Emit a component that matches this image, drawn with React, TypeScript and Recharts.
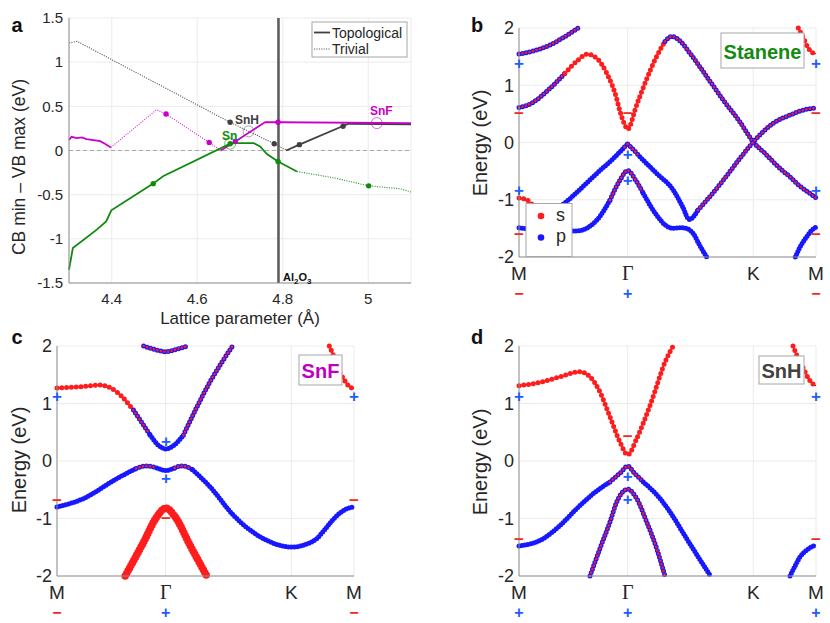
import React from 'react';
import { ComposedChart, Line, Scatter, XAxis, YAxis, CartesianGrid, ReferenceLine } from 'recharts';

const FONT = '"Liberation Sans", Arial, Helvetica, sans-serif';
const SERIF = '"Liberation Serif", "Times New Roman", serif';
const INK = '#262626';
const RED = '#ff1c1c';
const BLUE = '#1818ff';
const PAR_RED = '#ee2a1e';
const PAR_BLUE = '#1f5cff';
const MAG = '#c800c8';
const GREEN = '#0f8a0f';
const DARK = '#404040';

// ---------- panel a : gap vs lattice parameter ----------
const latTicks = [4.4, 4.6, 4.8, 5];
const gapTicks = [-1.5, -1, -0.5, 0, 0.5, 1, 1.5];
const AL2O3 = 4.79;

const snhTrivial = [[4.3, 1.217], [4.319, 1.236], [4.677, 0.319], [4.78, 0.077], [4.808, 0.005]];
const snhTopo = [[4.808, 0.0], [4.839, 0.066], [4.941, 0.277], [4.954, 0.303], [5.1, 0.295]];
const snfTopoA = [[4.3, 0.12], [4.306, 0.155], [4.318, 0.141], [4.33, 0.148], [4.341, 0.13], [4.373, 0.105], [4.384, 0.076], [4.398, 0.035]];
const snfTrivial = [[4.398, 0.035], [4.505, 0.462], [4.527, 0.413], [4.628, 0.09], [4.655, 0.0]];
const snfTopoB = [[4.655, 0.0], [4.689, 0.103], [4.759, 0.322], [4.789, 0.32], [5.1, 0.31]];
const snTopo = [[4.3, -1.35], [4.309, -1.104], [4.365, -0.896], [4.387, -0.802], [4.399, -0.677], [4.497, -0.375], [4.52, -0.292], [4.677, 0.077], [4.69, 0.084], [4.732, 0.084], [4.747, 0.046], [4.763, -0.04], [4.789, -0.124], [4.833, -0.237]];
const snTrivial = [[4.833, -0.237], [4.92, -0.31], [5.001, -0.4], [5.075, -0.433], [5.1, -0.47]];

const snhMarks = [[4.677, 0.319], [4.78, 0.077], [4.839, 0.066], [4.941, 0.274]];
const snfMarks = [[4.527, 0.413], [4.628, 0.09], [4.689, 0.103], [4.789, 0.32]];
const snMarks = [[4.497, -0.375], [4.677, 0.077], [4.789, -0.124], [5.001, -0.4]];
const snhOpen = [[4.72, 0.216]];
const snOpen = [[4.677, 0.077]];
const snfOpen = [[5.02, 0.31]];

// ---------- band structures (k path M-Γ-K-M) ----------
const kTicks = [0, 0.577, 1.244, 1.577];
const kLabels = ['M', 'Γ', 'K', 'M'];
const eTicks = [-2, -1, 0, 1, 2];

type Pt = [number, number, string]; // k, energy, orbital character (s, p, m = mixed)

const stanene: Pt[][] = [
  [[0, 1.544, 'm'], [0.067, 1.59, 'm'], [0.156, 1.69, 'm'], [0.244, 1.85, 'm'], [0.315, 2.0, 'm']],
  [[0, 0.61, 'm'], [0.067, 0.686, 'm'], [0.156, 0.92, 'm'], [0.244, 1.21, 's'], [0.315, 1.445, 's'], [0.359, 1.544, 's'], [0.412, 1.474, 's'], [0.466, 1.21, 's'], [0.51, 0.86, 's'], [0.545, 0.45, 's'], [0.566, 0.28, 's'], [0.577, 0.23, 's'], [0.588, 0.28, 's'], [0.616, 0.57, 's'], [0.669, 1.036, 's'], [0.722, 1.445, 's'], [0.775, 1.766, 'm'], [0.811, 1.854, 'm'], [0.846, 1.8, 'm'], [0.908, 1.56, 'm'], [0.997, 1.15, 'm'], [1.085, 0.74, 'm'], [1.173, 0.36, 'm'], [1.244, 0.01, 'm'], [1.306, -0.19, 'm'], [1.395, -0.48, 'm'], [1.439, -0.6, 'm'], [1.483, -0.74, 'm'], [1.536, -0.87, 'm'], [1.577, -0.967, 'm']],
  [[0, -0.97, 's'], [0.04, -1.0, 's'], [0.085, -1.12, 's'], [0.15, -1.2, 'p'], [0.2, -1.16, 'p'], [0.244, -1.054, 'p'], [0.33, -0.8, 'p'], [0.413, -0.54, 'p'], [0.51, -0.25, 'p'], [0.56, -0.08, 'm'], [0.577, -0.026, 'm']],
  [[0.577, -0.026, 'm'], [0.6, -0.1, 'm'], [0.642, -0.25, 'p'], [0.731, -0.54, 'p'], [0.819, -0.83, 'p'], [0.87, -1.13, 'p'], [0.904, -1.345, 'p'], [0.95, -1.18, 'm'], [0.997, -1.007, 'm'], [1.085, -0.657, 'm'], [1.173, -0.277, 'm'], [1.244, 0.01, 'm'], [1.35, 0.336, 'm'], [1.439, 0.48, 'm'], [1.527, 0.58, 'm'], [1.577, 0.6, 'm']],
  [[0, -1.49, 'p'], [0.08, -1.52, 'p'], [0.18, -1.54, 'p'], [0.306, -1.545, 'p'], [0.413, -1.357, 'p'], [0.483, -1.007, 'm'], [0.536, -0.657, 'm'], [0.577, -0.49, 'm'], [0.62, -0.66, 'm'], [0.66, -0.89, 'p'], [0.731, -1.27, 'p'], [0.78, -1.45, 'p'], [0.819, -1.5, 'p'], [0.86, -1.49, 'p'], [0.89, -1.5, 'p'], [0.925, -1.59, 'p'], [0.96, -1.8, 'p'], [0.997, -2.0, 'p']],
  [[1.467, -2.0, 'p'], [1.49, -1.84, 'p'], [1.527, -1.65, 'p'], [1.555, -1.53, 'p'], [1.577, -1.48, 'p']],
  [[1.483, 2.0, 's'], [1.51, 1.825, 's'], [1.536, 1.65, 's'], [1.563, 1.56, 's'], [1.577, 1.55, 's']],
];

const snf: Pt[][] = [
  [[0.46, 2.0, 'm'], [0.52, 1.94, 'm'], [0.578, 1.9, 'm'], [0.64, 1.95, 'm'], [0.693, 2.0, 'm']],
  [[0, 1.27, 's'], [0.12, 1.29, 's'], [0.23, 1.32, 's'], [0.318, 1.2, 's'], [0.406, 0.885, 'm'], [0.495, 0.45, 'p'], [0.54, 0.27, 'p'], [0.578, 0.21, 'p'], [0.62, 0.27, 'p'], [0.671, 0.45, 'm'], [0.813, 1.38, 'm'], [0.932, 2.0, 'm']],
  [[0, -0.8, 'p'], [0.141, -0.653, 'p'], [0.318, -0.305, 'p'], [0.42, -0.13, 'm'], [0.477, -0.085, 'm'], [0.53, -0.12, 'p'], [0.578, -0.165, 'p'], [0.625, -0.12, 'm'], [0.663, -0.085, 'm'], [0.72, -0.15, 'p'], [0.813, -0.45, 'p'], [0.937, -0.944, 'p'], [1.114, -1.38, 'p'], [1.246, -1.497, 'p'], [1.33, -1.44, 'p'], [1.379, -1.35, 'p'], [1.42, -1.2, 'p'], [1.46, -1.04, 'p'], [1.5, -0.91, 'p'], [1.54, -0.83, 'p'], [1.577, -0.8, 'p']],
  [[0.362, -2.0, 's'], [0.46, -1.41, 's'], [0.53, -0.97, 's'], [0.578, -0.82, 's'], [0.627, -0.97, 's'], [0.707, -1.47, 's'], [0.795, -2.0, 's']],
  [[1.446, 2.0, 's'], [1.467, 1.84, 's'], [1.5, 1.55, 's'], [1.52, 1.44, 's'], [1.55, 1.3, 's'], [1.577, 1.26, 's']],
];

const snh: Pt[][] = [
  [[0, 1.31, 's'], [0.129, 1.38, 's'], [0.218, 1.465, 's'], [0.324, 1.552, 's'], [0.377, 1.465, 's'], [0.43, 1.2, 's'], [0.483, 0.77, 's'], [0.536, 0.33, 's'], [0.577, 0.11, 's'], [0.625, 0.39, 's'], [0.696, 0.97, 's'], [0.784, 1.786, 's'], [0.819, 2.0, 's']],
  [[0, -1.48, 'p'], [0.129, -1.35, 'p'], [0.218, -1.12, 'p'], [0.306, -0.83, 'p'], [0.395, -0.566, 'p'], [0.483, -0.364, 'm'], [0.54, -0.2, 'm'], [0.577, -0.09, 'm'], [0.615, -0.22, 'm'], [0.66, -0.364, 'p'], [0.749, -0.653, 'p'], [0.802, -0.887, 'p'], [0.89, -1.35, 'p'], [1.017, -2.0, 'p']],
  [[0.377, -2.0, 'm'], [0.43, -1.52, 'm'], [0.483, -1.06, 'm'], [0.519, -0.71, 'm'], [0.577, -0.49, 'm'], [0.625, -0.653, 'm'], [0.678, -1.06, 'm'], [0.731, -1.52, 'm'], [0.775, -2.0, 'm']],
  [[1.439, -2.0, 'p'], [1.47, -1.8, 'p'], [1.492, -1.67, 'p'], [1.536, -1.53, 'p'], [1.577, -1.46, 'p']],
  [[1.455, 2.0, 's'], [1.48, 1.8, 's'], [1.51, 1.61, 's'], [1.536, 1.44, 's'], [1.56, 1.34, 's'], [1.577, 1.31, 's']],
];

// parity eigenvalues at the TRIM points
const parStanene: Pt[] = [[0, 1.387, '+'], [0, 0.5, '-'], [0, -0.83, '+'], [0, -1.6, '-'], [0.577, 0.5, '-'], [0.577, -0.207, '+'], [0.577, -0.669, '+'], [1.577, 1.387, '+'], [1.577, 0.5, '-'], [1.577, -0.83, '+'], [1.577, -1.6, '-']];
const parSnF: Pt[] = [[0, 1.13, '+'], [0, -0.683, '-'], [0.578, 0.345, '+'], [0.578, -0.305, '+'], [0.578, -1.0, '-'], [1.577, 1.13, '+'], [1.577, -0.683, '-']];
const parSnH: Pt[] = [[0, 1.13, '+'], [0, -1.36, '-'], [0.577, 0.43, '-'], [0.577, -0.277, '+'], [0.577, -0.665, '+'], [1.577, 1.13, '+'], [1.577, -1.36, '-']];
const totalStanene = ['-', '+', '', '-'];
const totalSnF = ['-', '+', '', '-'];
const totalSnH = ['+', '+', '', '+'];

// ---------- helpers ----------
const toXY = (a: any[]) => a.map((p) => ({ x: p[0], y: p[1], s: p[2] }));

function splitRuns(band: Pt[]) {
  const out: { ch: string; pts: any[] }[] = [];
  let cur: Pt[] = [band[0]];
  for (let i = 1; i < band.length; i++) {
    const p = band[i];
    cur.push(p);
    if (p[2] !== cur[0][2]) {
      out.push({ ch: cur[0][2], pts: toXY(cur) });
      cur = [p];
    }
  }
  if (cur.length > 1) out.push({ ch: cur[0][2], pts: toXY(cur) });
  return out;
}

const common = { dataKey: 'y', type: 'monotone' as const, dot: false, activeDot: false, isAnimationActive: false, legendType: 'none' as const };

function bandLines(bands: Pt[][], id: string, thick: number[] = []) {
  const els: any[] = [];
  bands.forEach((band, bi) => {
    els.push(<Line key={`${id}-${bi}-k`} {...common} data={toXY(band)} stroke="#111" strokeWidth={0.9} />);
    const w = thick.includes(bi) ? 7.5 : 5;
    splitRuns(band).forEach((seg, si) => {
      const key = `${id}-${bi}-${si}`;
      if (seg.ch === 's') {
        els.push(<Line key={key} {...common} data={seg.pts} stroke={RED} strokeWidth={w} strokeLinecap="round" strokeDasharray={thick.includes(bi) ? '0 3' : '0 4.8'} />);
      } else if (seg.ch === 'p') {
        els.push(<Line key={key} {...common} data={seg.pts} stroke={BLUE} strokeWidth={w} strokeLinecap="round" strokeDasharray="0 3" />);
      } else {
        els.push(<Line key={key + 'b'} {...common} data={seg.pts} stroke={BLUE} strokeWidth={w} strokeLinecap="round" strokeDasharray="0 3.6" />);
        els.push(<Line key={key + 'r'} {...common} data={seg.pts} stroke={RED} strokeWidth={2.6} strokeLinecap="round" strokeDasharray="0 3.6" />);
      }
    });
  });
  return els;
}

const ParityShape = (props: any) => {
  const { cx, cy, payload } = props;
  const plus = payload.s === '+';
  return (
    <text x={cx} y={cy} textAnchor="middle" dominantBaseline="central" fontSize={17} fontWeight="bold" fontFamily={FONT} fill={plus ? PAR_BLUE : PAR_RED}>
      {plus ? '+' : '\u2212'}
    </text>
  );
};

const makeKTick = (total: string[]) => (props: any) => {
  const { x, y, index } = props;
  const lab = kLabels[index];
  const t = total[index];
  return (
    <g>
      <text x={x} y={y + 16} textAnchor="middle" dominantBaseline="central" fontSize={lab === 'Γ' ? 20 : 19} fontFamily={lab === 'Γ' ? SERIF : FONT} fill={INK}>{lab}</text>
      {t && (
        <text x={x} y={y + 36.5} textAnchor="middle" dominantBaseline="central" fontSize={16} fontWeight="bold" fontFamily={FONT} fill={t === '+' ? PAR_BLUE : PAR_RED}>
          {t === '+' ? '+' : '\u2212'}
        </text>
      )}
    </g>
  );
};

const BandChart = ({ bands, parity, total, thick, width, height, margin, yWidth }: any) => (
  <ComposedChart width={width} height={height} margin={margin}>
    <CartesianGrid stroke="#ebebeb" />
    <XAxis type="number" dataKey="x" domain={[0, 1.577]} ticks={kTicks} tick={makeKTick(total)} tickLine={false} tickSize={0} tickMargin={0} axisLine={{ stroke: '#8f8f8f' }} height={40} interval={0} />
    <YAxis type="number" dataKey="y" domain={[-2, 2]} ticks={eTicks} width={yWidth} tickLine={false} tickSize={3} tickMargin={2} axisLine={{ stroke: '#8f8f8f' }} tick={{ fontSize: 18, fill: INK, fontFamily: FONT }} interval={0} />
    {bandLines(bands, 'b', thick)}
    <Scatter data={toXY(parity)} dataKey="y" shape={<ParityShape />} isAnimationActive={false} legendType="none" />
  </ComposedChart>
);

const dotShape = (color: string) => (props: any) => <circle cx={props.cx} cy={props.cy} r={2.7} fill={color} />;
const ringShape = (color: string) => (props: any) => <circle cx={props.cx} cy={props.cy} r={5.5} fill="none" stroke={color} strokeWidth={0.6} />;

const GapChart = () => {
  const solid = { ...common, type: 'linear' as const, strokeWidth: 1.8 };
  const dotted = { ...common, type: 'linear' as const, strokeWidth: 1.1, strokeDasharray: '1.1 1.3' };
  return (
    <ComposedChart width={415} height={330} margin={{ top: 18, right: 4, left: 9, bottom: 17 }}>
      <CartesianGrid stroke="#ebebeb" />
      <XAxis type="number" dataKey="x" domain={[4.3, 5.1]} ticks={latTicks} tickFormatter={(v) => String(v)} tickLine={false} tickSize={6} tickMargin={4} height={30} axisLine={{ stroke: '#8f8f8f' }} tick={{ fontSize: 15, fill: INK, fontFamily: FONT }} interval={0} />
      <YAxis type="number" dataKey="y" domain={[-1.5, 1.5]} ticks={gapTicks} tickLine={false} tickSize={4} tickMargin={2} width={60} axisLine={{ stroke: '#8f8f8f' }} tick={{ fontSize: 15, fill: INK, fontFamily: FONT }} interval={0} />
      <ReferenceLine y={0} stroke="#a0a0a0" strokeDasharray="4 3" strokeWidth={0.9} />
      <ReferenceLine x={AL2O3} stroke="#5e5e5e" strokeWidth={2.6} />
      <Line {...dotted} data={toXY(snhTrivial)} stroke="#555" />
      <Line {...solid} data={toXY(snhTopo)} stroke={DARK} />
      <Line {...solid} data={toXY(snfTopoA)} stroke={MAG} />
      <Line {...dotted} data={toXY(snfTrivial)} stroke="#dd33dd" />
      <Line {...solid} data={toXY(snfTopoB)} stroke={MAG} />
      <Line {...solid} data={toXY(snTopo)} stroke={GREEN} />
      <Line {...dotted} data={toXY(snTrivial)} stroke="#2a9a2a" />
      <Scatter data={toXY(snhMarks)} dataKey="y" shape={dotShape(DARK)} isAnimationActive={false} />
      <Scatter data={toXY(snfMarks)} dataKey="y" shape={dotShape(MAG)} isAnimationActive={false} />
      <Scatter data={toXY(snMarks)} dataKey="y" shape={dotShape(GREEN)} isAnimationActive={false} />
      <Scatter data={toXY(snhOpen)} dataKey="y" shape={ringShape('#666')} isAnimationActive={false} />
      <Scatter data={toXY(snOpen)} dataKey="y" shape={ringShape(GREEN)} isAnimationActive={false} />
      <Scatter data={toXY(snfOpen)} dataKey="y" shape={ringShape(MAG)} isAnimationActive={false} />
    </ComposedChart>
  );
};

const Box = ({ x, y, w, h, text, color }: any) => (
  <g>
    <rect x={x} y={y} width={w} height={h} fill="#fff" stroke="#a6a6a6" strokeWidth={1} />
    <text x={x + w / 2} y={y + h / 2 + 1} textAnchor="middle" dominantBaseline="central" fontSize={20} fontWeight="bold" fill={color}>{text}</text>
  </g>
);

const Overlay = () => (
  <svg width={830} height={623} style={{ position: 'absolute', left: 0, top: 0, pointerEvents: 'none' }} fontFamily={FONT}>
    <g fontSize={20} fontWeight="bold" fill="#111" dominantBaseline="central" textAnchor="middle">
      <text x={17} y={25}>a</text>
      <text x={477} y={25}>b</text>
      <text x={17} y={337}>c</text>
      <text x={477} y={337}>d</text>
    </g>
    {/* panel a */}
    <text transform="translate(18.5,167) rotate(-90)" textAnchor="middle" dominantBaseline="central" fontSize={17.5} fill={INK}>CB min – VB max (eV)</text>
    <text x={240} y={318} textAnchor="middle" dominantBaseline="central" fontSize={17} fill={INK}>Lattice parameter (Å)</text>
    <rect x={312} y={22} width={95} height={35} fill="#fff" stroke="#a6a6a6" />
    <line x1={314} y1={32.5} x2={330} y2={32.5} stroke={DARK} strokeWidth={1.8} />
    <line x1={314} y1={49} x2={330} y2={49} stroke="#555" strokeWidth={1.1} strokeDasharray="1.1 1.3" />
    <text x={332} y={32.5} dominantBaseline="central" fontSize={14} fill={INK}>Topological</text>
    <text x={332} y={49} dominantBaseline="central" fontSize={14} fill={INK}>Trivial</text>
    <g fontSize={12} fontWeight="bold">
      <text x={235} y={123.5} fill={DARK}>SnH</text>
      <text x={222} y={139.5} fill={GREEN}>Sn</text>
      <text x={370} y={114.5} fill={MAG}>SnF</text>
    </g>
    <text x={283} y={281} fontSize={11} fontWeight="bold" fill="#111">
      Al<tspan fontSize={8} dy={3}>2</tspan><tspan dy={-3}>O</tspan><tspan fontSize={8} dy={3}>3</tspan>
    </text>
    {/* band panels */}
    <g fontSize={20} fill={INK} textAnchor="middle" dominantBaseline="central">
      <text transform="translate(480,143) rotate(-90)">Energy (eV)</text>
      <text transform="translate(18.5,460) rotate(-90)">Energy (eV)</text>
      <text transform="translate(480,462) rotate(-90)">Energy (eV)</text>
    </g>
    <Box x={721} y={33} w={83} h={35} text="Stanene" color="#138a13" />
    <Box x={299} y={355} w={43} h={30} text="SnF" color="#c000c0" />
    <Box x={759} y={356} w={45} h={28} text="SnH" color="#424242" />
    <rect x={526} y={203.5} width={46} height={53} fill="#fff" stroke="#a6a6a6" />
    <circle cx={541} cy={216} r={3.3} fill={RED} />
    <circle cx={541} cy={237.5} r={3.3} fill={BLUE} />
    <text x={556} y={215} dominantBaseline="central" fontSize={18} fill={INK}>s</text>
    <text x={556} y={236} dominantBaseline="central" fontSize={18} fill={INK}>p</text>
  </svg>
);

export default function App() {
  return (
    <div style={{ position: 'absolute', left: 0, top: 0, width: 830, height: 623, background: '#fff', fontFamily: FONT }}>
      <div style={{ position: 'absolute', left: 0, top: 0 }}>
        <GapChart />
      </div>
      <div style={{ position: 'absolute', left: 415, top: 0 }}>
        <BandChart bands={stanene} parity={parStanene} total={totalStanene} width={415} height={310} margin={{ top: 28, right: 14, left: 44, bottom: 13 }} yWidth={60} />
      </div>
      <div style={{ position: 'absolute', left: 0, top: 310 }}>
        <BandChart bands={snf} parity={parSnF} total={totalSnF} thick={[3]} width={415} height={313} margin={{ top: 36, right: 61, left: 12, bottom: 7 }} yWidth={45} />
      </div>
      <div style={{ position: 'absolute', left: 415, top: 310 }}>
        <BandChart bands={snh} parity={parSnH} total={totalSnH} width={415} height={313} margin={{ top: 36, right: 14, left: 44, bottom: 7 }} yWidth={60} />
      </div>
      <Overlay />
    </div>
  );
}
